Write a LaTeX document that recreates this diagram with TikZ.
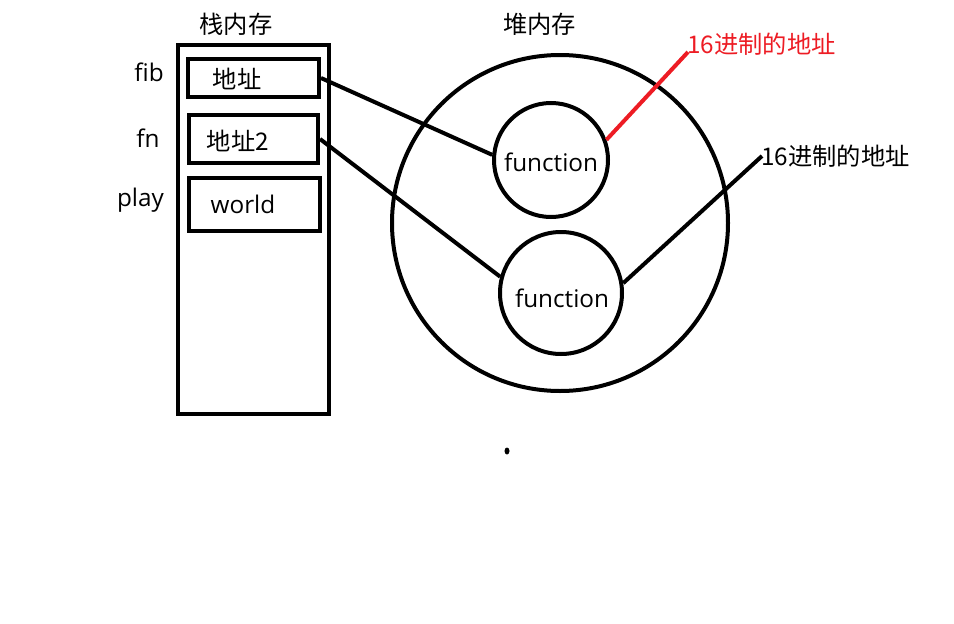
\documentclass[tikz,border=0pt]{standalone}
\usepackage{fontspec}
\setmainfont{Open Sans}
\newfontfamily\cjk{Noto Sans CJK SC}
\definecolor{redline}{RGB}{237,28,36}
\begin{document}
\begin{tikzpicture}[x=1pt,y=-1pt,
  every node/.style={inner sep=0pt, font=\fontsize{24.3}{28}\selectfont},
  thick line/.style={line width=4pt},
  cell/.style={draw, thick line},
  ring/.style={draw, thick line, circle}]
\useasboundingbox (0,0) rectangle (954,624);
% stack
\node[cell, minimum width=151pt, minimum height=369pt] (stack) at (253.5,229.5) {};
\node (stacktitle) at (236,24) {\cjk 栈内存};
\node[cell, minimum width=131pt, minimum height=38pt] (fibbox) at (253.5,78) {};
\node[cell, minimum width=129pt, minimum height=48pt] (fnbox) at (253.5,139) {};
\node[cell, minimum width=131pt, minimum height=53pt] (playbox) at (254.5,204.5) {};
\node (fibtxt) at (237,79) {\cjk 地址};
\node (fntxt) at (238,141) {\cjk 地址2};
\node (playtxt) at (243,204) {world};
\node (fiblab) at (149,72) {fib};
\node (fnlab) at (148,138) {fn};
\node (playlab) at (140.5,200) {play};
% heap
\node (heaptitle) at (539.5,24) {\cjk 堆内存};
\node[ring, minimum size=336pt] (heap) at (560,223) {};
\node[ring, minimum size=114pt] (f1) at (551,160) {};
\node[ring, minimum size=122pt] (f2) at (561,293) {};
\node (f1txt) at (551,162) {function};
\node (f2txt) at (562,298) {function};
% labels
\node[anchor=west, text=redline] (redlab) at (687,44) {\cjk 16进制的地址};
\node[anchor=west] (blklab) at (761,156) {\cjk 16进制的地址};
\coordinate (redend) at (688,52);
\coordinate (blkend) at (762,156);
% connectors
\draw[thick line] (fibbox.east) -- (f1.175);
\draw[thick line] (fnbox.east) -- (f2.165);
\draw[thick line, redline] (f1.20) -- (redend);
\draw[thick line] (f2.9) -- (blkend);
% dot
\fill (507,451) ellipse (2.5pt and 3.5pt);
\end{tikzpicture}
\end{document}
